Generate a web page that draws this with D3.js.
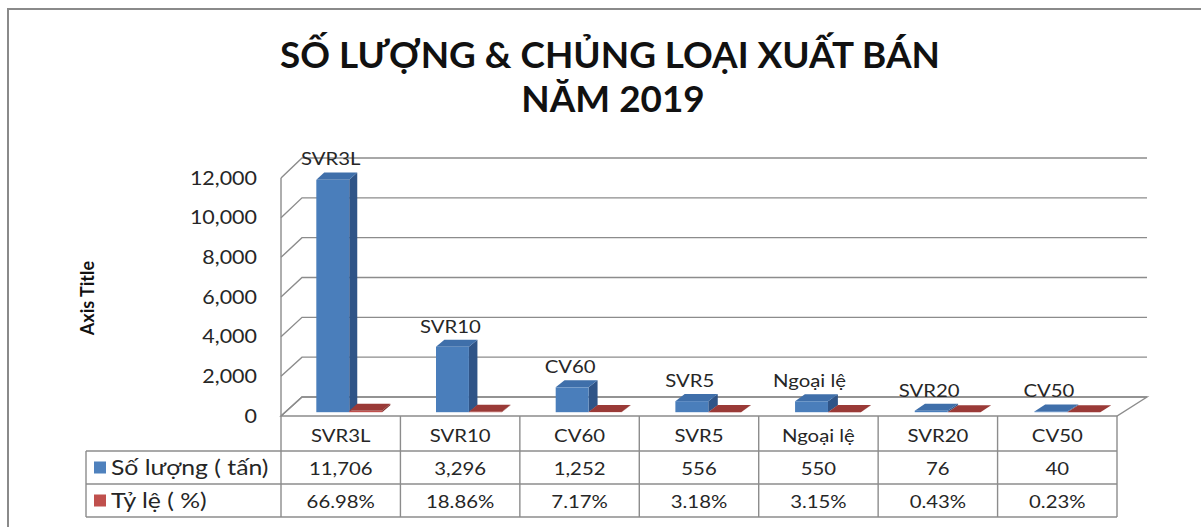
<!DOCTYPE html>
<html><head><meta charset="utf-8">
<script src="https://cdn.jsdelivr.net/npm/d3@7"></script>
<style>body{margin:0;background:#fff} svg{display:block}</style>
</head><body>
<svg id="c" width="1201" height="527"></svg>
<script>
// ---- data ----
const categories = ["SVR3L","SVR10","CV60","SVR5","Ngoại lệ","SVR20","CV50"];
const quantity = [11706,3296,1252,556,550,76,40];
const percent = [66.98,18.86,7.17,3.18,3.15,0.43,0.23];
const seriesNames = ["Số lượng ( tấn)","Tỷ lệ ( %)"];
const yTicks = [0,2000,4000,6000,8000,10000,12000];
const titleLines = ["SỐ LƯỢNG & CHỦNG LOẠI XUẤT BÁN","NĂM 2019"];
const axisTitle = "Axis Title";

// ---- style ----
const FONT = "Lato, 'Open Sans', sans-serif";
const SX = 1.13;
const GRID = "#8c8c8c";
const blue = {front:"#4A7EBB", top:"#3F6FAA", side:"#2F5487"};
const red = {front:"#C0504D", top:"#9A3A37", side:"#7E2D2A"};
const legendColors = ["#4F81BD","#C0504D"];

const svg = d3.select("#c");

// outer border
svg.append("rect").attr("x",8).attr("y",9).attr("width",1220).attr("height",540)
  .attr("fill","none").attr("stroke","#8a8a8a").attr("stroke-width",2);

// ---- 3D projection ----
const xF = d3.scaleLinear().domain([0,1]).range([281,1117]);
const xB = d3.scaleLinear().domain([0,1]).range([302,1147]);
const yF = d3.scaleLinear().domain([0,12000]).range([416,178]);
const yB = d3.scaleLinear().domain([0,12000]).range([397,158]);
function P(f,v,t){ return [xF(f)+(xB(f)-xF(f))*t, yF(v)+(yB(v)-yF(v))*t]; }
const cat = d3.scaleBand().domain(categories).range([0,1]);
const ser = d3.scaleBand().domain([0,1]).range([cat.bandwidth()*0.26, cat.bandwidth()*0.81]);
const T1 = 0.2, T2 = 0.57;
const line = d3.line();

function txt(g, s, x, y, opts){
  const t = g.append("text").text(s)
    .attr("font-family",FONT).attr("font-size",opts.size||17)
    .attr("font-weight",opts.weight||"normal")
    .attr("fill",opts.fill||"#262626")
    .attr("text-anchor",opts.anchor||"middle")
    .attr("transform",`translate(${x},${y}) ${opts.rot?`rotate(${opts.rot})`:""} scale(${opts.sx||SX},1)`);
  if(opts.baseline) t.attr("dominant-baseline",opts.baseline);
  return t;
}

// ---- walls & floor ----
const walls = svg.append("g").attr("fill","none").attr("stroke",GRID).attr("stroke-width",1.4);
walls.append("path").attr("d", line([P(0,0,0),P(1,0,0),P(1,0,1),P(0,0,1)])+"Z").attr("fill","#fff");
yTicks.forEach(v=>{
  walls.append("path").attr("d", line([P(0,v,0),P(0,v,1),P(1,v,1)]));
});
walls.append("path").attr("d", line([P(0,0,0),P(0,12000,0)]));

// ---- bars ----
const barsG = svg.append("g");
function drawBar(f0,f1,v,col){
  const g = barsG.append("g");
  g.append("path").attr("d", line([P(f1,0,T1),P(f1,v,T1),P(f1,v,T2),P(f1,0,T2)])+"Z").attr("fill",col.side);
  g.append("path").attr("d", line([P(f0,v,T1),P(f1,v,T1),P(f1,v,T2),P(f0,v,T2)])+"Z").attr("fill",col.top);
  const a=P(f0,v,T1), b=P(f1,0,T1);
  g.append("rect").attr("x",a[0]).attr("y",a[1]).attr("width",b[0]-a[0]).attr("height",Math.max(0,b[1]-a[1])).attr("fill",col.front);
}
categories.forEach((c,i)=>{
  const b0 = cat(c)+ser(0), r0 = cat(c)+ser(1);
  drawBar(b0, b0+ser.bandwidth(), quantity[i], blue);
  drawBar(r0, r0+ser.bandwidth(), percent[i], red);
});

// data labels (category name above blue bar)
const lblG = svg.append("g");
categories.forEach((c,i)=>{
  const b0 = cat(c)+ser(0);
  const fc = P(b0+ser.bandwidth()/2, quantity[i], T1);
  const tb = P(b0, quantity[i], T2);
  txt(lblG, c, fc[0]-2, tb[1]-7, {size:18});
});

// ---- y axis labels ----
const axG = svg.append("g");
yTicks.forEach(v=>{
  txt(axG, d3.format(",")(v), 257, yF(v)+2, {size:19, anchor:"end", baseline:"middle"});
});
txt(axG, axisTitle, 94, 298, {size:18, weight:"bold", rot:-90, sx:1, fill:"#111"});

// ---- title ----
const tg = svg.append("g");
const t1 = txt(tg, titleLines[0], 610, 68, {size:37, weight:"bold", fill:"#111", sx:1});
const w1 = t1.node().getComputedTextLength();
const s1 = 660 / w1;
t1.attr("transform",`translate(610,68) scale(${s1},1)`);
txt(tg, titleLines[1], 613, 112, {size:37, weight:"bold", fill:"#111", sx:s1});

// ---- data table ----
const tab = svg.append("g");
const rowY = [416,451,484,517];
const tl = tab.append("g").attr("stroke",GRID).attr("stroke-width",1.4).attr("fill","none");
[1,2,3].forEach(r=>{
  tl.append("line").attr("x1",86).attr("x2",xF(1)).attr("y1",rowY[r]).attr("y2",rowY[r]);
});
tl.append("line").attr("x1",86).attr("x2",86).attr("y1",rowY[1]).attr("y2",rowY[3]);
d3.range(categories.length+1).forEach(k=>{
  const x = xF(k/categories.length);
  tl.append("line").attr("x1",x).attr("x2",x).attr("y1",rowY[0]).attr("y2",rowY[3]);
});
categories.forEach((c,i)=>{
  const cx = xF(cat(c)+cat.bandwidth()/2);
  txt(tab, c, cx, 442, {size:18});
  txt(tab, d3.format(",")(quantity[i]), cx, 475, {size:18});
  txt(tab, percent[i].toFixed(2)+"%", cx, 508, {size:18});
});
// legend
seriesNames.forEach((s,i)=>{
  const cy = (rowY[i+1]+rowY[i+2])/2;
  tab.append("rect").attr("x",94).attr("y",cy-6).attr("width",12).attr("height",12).attr("fill",legendColors[i]);
  txt(tab, s, 111, cy+7, {size:21, anchor:"start", sx:1.18});
});
</script>
</body></html>
